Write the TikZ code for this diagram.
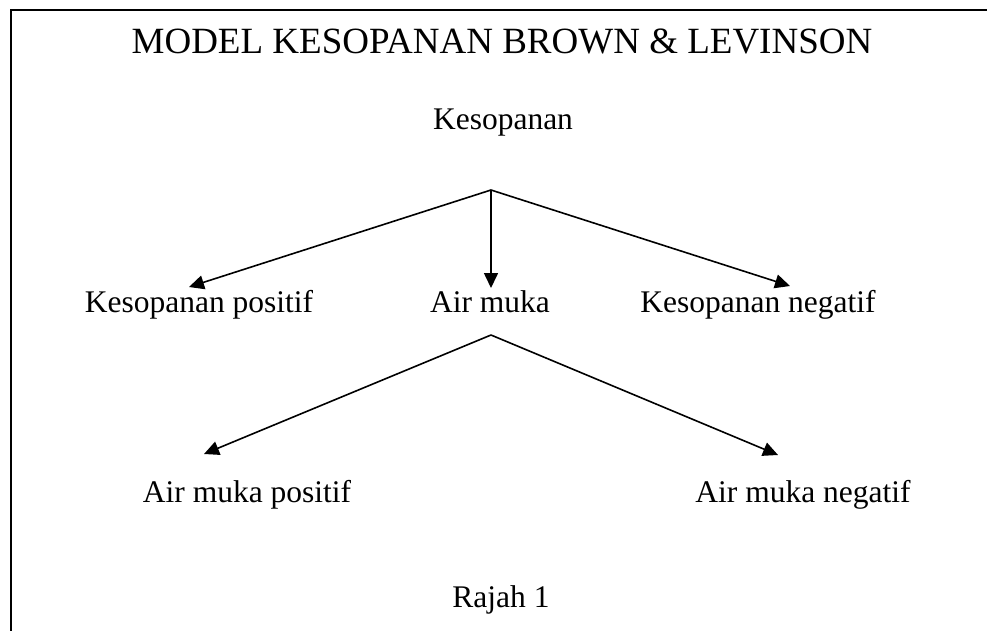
\documentclass[tikz,border=0pt]{standalone}
\usepackage{fontspec}
\setmainfont{Liberation Serif}
\usetikzlibrary{arrows.meta}
\begin{document}
\begin{tikzpicture}[x=1pt,y=-1pt,
  lbl/.style={inner sep=0pt,anchor=base,font=\fontsize{31.5}{36}\selectfont},
  ttl/.style={inner sep=0pt,anchor=base,font=\fontsize{37}{42}\selectfont},
  conn/.style={line width=1.6pt},
  arr/.style={conn,-{Triangle[length=15pt,width=14pt]}},
  frame/.style={line width=2.6pt}]
\useasboundingbox (0,0) rectangle (987,630);
\draw[frame] (11,632) -- (11,10) -- (990,10);
\node[ttl] (title) at (502,53) {MODEL KESOPANAN BROWN \& LEVINSON};
\node[lbl] (top) at (503,129) {Kesopanan};
\node[lbl] (kp) at (199,312) {Kesopanan positif};
\node[lbl] (am) at (490,312) {Air muka};
\node[lbl] (kn) at (758,312) {Kesopanan negatif};
\node[lbl] (amp) at (247,502) {Air muka positif};
\node[lbl] (amn) at (803,502) {Air muka negatif};
\node[lbl] (rajah) at (501,607) {Rajah 1};
\coordinate (j1) at (491,190);
\coordinate (j2) at (491,335);
\coordinate (t1) at (189,287);
\coordinate (t2) at (491,288);
\coordinate (t3) at (790,286);
\coordinate (t4) at (204,454);
\coordinate (t5) at (778,455);
\draw[arr] (j1) -- (t1);
\draw[arr] (j1) -- (t2);
\draw[arr] (j1) -- (t3);
\draw[arr] (j2) -- (t4);
\draw[arr] (j2) -- (t5);
\end{tikzpicture}
\end{document}
